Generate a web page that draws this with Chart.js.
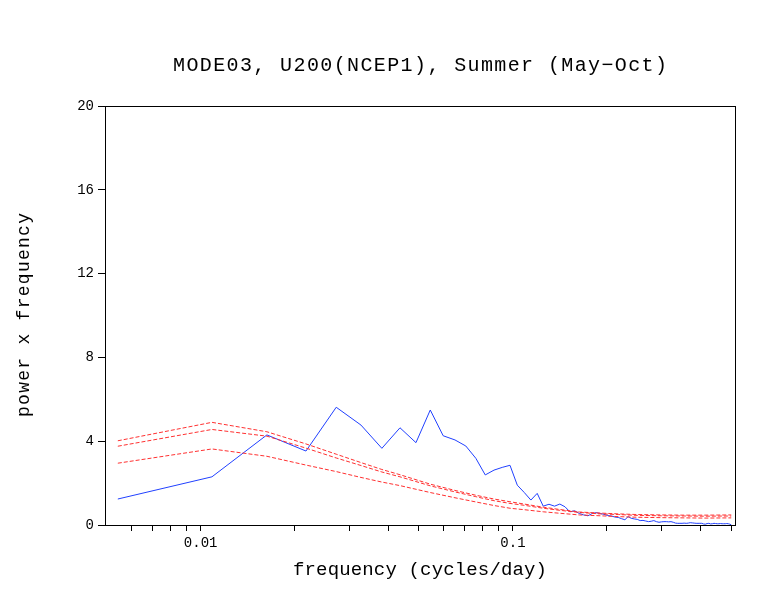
<!DOCTYPE html>
<html>
<head>
<meta charset="utf-8">
<script src="https://cdn.jsdelivr.net/npm/chart.js@4.4.1/dist/chart.umd.min.js"></script>
<style>
  html, body { margin: 0; padding: 0; background: #fff; }
  canvas { display: block; }
</style>
</head>
<body>
<canvas id="spectrumChart" width="770" height="595"></canvas>
<script>
// frequencies of the harmonics (cycles/day), record of 184 days
const freq = [
  0.00543, 0.01087, 0.01630, 0.02174, 0.02717, 0.03261, 0.03804, 0.04348, 0.04891, 0.05435,
  0.05978, 0.06522, 0.07065, 0.07609, 0.08152, 0.08696, 0.09239, 0.09783, 0.10326, 0.10870,
  0.11413, 0.11957, 0.12500, 0.13043, 0.13587, 0.14130, 0.14674, 0.15217, 0.15761, 0.16304,
  0.16848, 0.17391, 0.17935, 0.18478, 0.19022, 0.19565, 0.20109, 0.20652, 0.21196, 0.21739,
  0.22283, 0.22826, 0.23370, 0.23913, 0.24457, 0.25000, 0.25543, 0.26087, 0.26630, 0.27174,
  0.27717, 0.28261, 0.28804, 0.29348, 0.29891, 0.30435, 0.30978, 0.31522, 0.32065, 0.32609,
  0.33152, 0.33696, 0.34239, 0.34783, 0.35326, 0.35870, 0.36413, 0.36957, 0.37500, 0.38043,
  0.38587, 0.39130, 0.39674, 0.40217, 0.40761, 0.41304, 0.41848, 0.42391, 0.42935, 0.43478,
  0.44022, 0.44565, 0.45109, 0.45652, 0.46196, 0.46739, 0.47283, 0.47826, 0.48370, 0.48913,
  0.49457, 0.50000
];

// power x frequency of the mode (blue)
const powerFreq = [
  1.24, 2.30, 4.30, 3.53, 5.62, 4.77, 3.66, 4.64, 3.93, 5.49,
  4.26, 4.06, 3.77, 3.18, 2.39, 2.62, 2.75, 2.85, 1.90, 1.55,
  1.19, 1.51, 0.90, 0.99, 0.90, 1.00, 0.87, 0.63, 0.68, 0.55,
  0.48, 0.44, 0.55, 0.59, 0.55, 0.51, 0.45, 0.43, 0.38, 0.36,
  0.30, 0.25, 0.40, 0.32, 0.29, 0.27, 0.21, 0.22, 0.19, 0.16,
  0.18, 0.21, 0.16, 0.13, 0.15, 0.16, 0.16, 0.15, 0.16, 0.13,
  0.09, 0.08, 0.08, 0.08, 0.09, 0.08, 0.09, 0.11, 0.10, 0.09,
  0.08, 0.08, 0.08, 0.08, 0.05, 0.04, 0.07, 0.08, 0.05, 0.06,
  0.08, 0.07, 0.06, 0.06, 0.07, 0.06, 0.06, 0.06, 0.07, 0.06,
  0.04, 0.01
];

// red-noise reference curves (dashed red), read at fewer frequencies
const redFreq = [
  0.00543, 0.01087, 0.01630, 0.02174, 0.02717, 0.03261, 0.03804, 0.04348, 0.05435, 0.06522,
  0.07609, 0.08696, 0.09783, 0.10870, 0.12500, 0.14130, 0.16304, 0.19022, 0.21739, 0.25000,
  0.29891, 0.35326, 0.40761, 0.50000
];
const redUpper = [
  4.02, 4.90, 4.45, 3.87, 3.38, 2.98, 2.65, 2.40, 1.95, 1.65,
  1.42, 1.24, 1.11, 1.00, 0.85, 0.74, 0.62, 0.57, 0.53, 0.50,
  0.48, 0.47, 0.47, 0.48
];
const redMiddle = [
  3.76, 4.56, 4.24, 3.67, 3.20, 2.84, 2.53, 2.30, 1.87, 1.58,
  1.35, 1.16, 1.03, 0.94, 0.80, 0.70, 0.60, 0.53, 0.50, 0.46,
  0.44, 0.43, 0.42, 0.43
];
const redLower = [
  2.95, 3.63, 3.28, 2.86, 2.55, 2.27, 2.05, 1.88, 1.55, 1.30,
  1.10, 0.93, 0.80, 0.73, 0.63, 0.56, 0.48, 0.44, 0.40, 0.37,
  0.35, 0.34, 0.33, 0.34
];

const xTickValues = [
  0.006, 0.007, 0.008, 0.009, 0.01, 0.02, 0.03, 0.04, 0.05, 0.06, 0.07, 0.08, 0.09,
  0.1, 0.2, 0.3, 0.4, 0.5
];
const xTickText = [
  '', '', '', '', '0.01', '', '', '', '', '', '', '', '',
  '0.1', '', '', '', ''
];

const titleText = 'MODE03, U200(NCEP1), Summer (May\u2212Oct)';
const xTitle = 'frequency (cycles/day)';
const yTitle = 'power x frequency';

const FONT = '"Liberation Mono", "DejaVu Sans Mono", monospace';

function toPoints(xs, ys) {
  return xs.map((x, i) => ({ x: x, y: ys[i] }));
}

// draw text stretched with letter spacing to a target width
function spacedText(ctx, text, cx, cy, width, size, angle) {
  ctx.save();
  ctx.font = size + 'px ' + FONT;
  ctx.fillStyle = '#000';
  ctx.textAlign = 'left';
  ctx.textBaseline = 'alphabetic';
  ctx.letterSpacing = '0px';
  const natural = ctx.measureText(text).width;
  const gap = (width - natural) / (text.length - 1);
  ctx.letterSpacing = gap + 'px';
  ctx.translate(cx, cy);
  if (angle) ctx.rotate(angle);
  ctx.fillText(text, -width / 2, 0);
  ctx.restore();
}

const frameAndTitles = {
  id: 'frameAndTitles',
  afterDraw(chart) {
    const ctx = chart.ctx;
    const a = chart.chartArea;
    ctx.save();
    ctx.strokeStyle = '#000';
    ctx.lineWidth = 1;
    ctx.strokeRect(Math.round(a.left) + 0.5, Math.round(a.top) + 0.5,
      Math.round(a.right - a.left), Math.round(a.bottom - a.top));
    ctx.restore();

    spacedText(ctx, titleText, 420, 71, 494, 20, 0);
    spacedText(ctx, xTitle, 420, 575, 254, 19, 0);
    spacedText(ctx, yTitle, 29, 315, 204, 18, -Math.PI / 2);
  }
};

const redStyle = {
  borderColor: '#ff3030',
  borderWidth: 1,
  borderDash: [4, 2],
  pointRadius: 0,
  showLine: true,
  fill: false
};

new Chart(document.getElementById('spectrumChart'), {
  type: 'scatter',
  data: {
    datasets: [
      Object.assign({ label: 'upper', data: toPoints(redFreq, redUpper) }, redStyle),
      Object.assign({ label: 'middle', data: toPoints(redFreq, redMiddle) }, redStyle),
      Object.assign({ label: 'lower', data: toPoints(redFreq, redLower) }, redStyle),
      {
        label: 'MODE03',
        data: toPoints(freq, powerFreq),
        borderColor: '#2040ff',
        borderWidth: 1,
        pointRadius: 0,
        showLine: true,
        fill: false
      }
    ]
  },
  options: {
    responsive: false,
    animation: false,
    layout: { padding: { top: 106, right: 35, left: 0, bottom: 0 } },
    plugins: {
      legend: { display: false },
      tooltip: { enabled: false },
      title: { display: false }
    },
    scales: {
      x: {
        type: 'logarithmic',
        min: 0.00494,
        max: 0.514,
        afterBuildTicks: (scale) => {
          scale.ticks = xTickValues.map(v => ({ value: v }));
        },
        afterFit: (scale) => { scale.height = 70; },
        grid: {
          display: true,
          drawOnChartArea: false,
          drawTicks: true,
          tickLength: 6,
          color: '#000'
        },
        border: { display: true, color: '#000', width: 1 },
        ticks: {
          autoSkip: false,
          maxRotation: 0,
          padding: 4,
          color: '#000',
          font: { family: FONT, size: 14 },
          callback: (value, index) => xTickText[index]
        }
      },
      y: {
        min: 0,
        max: 20,
        afterFit: (scale) => { scale.width = 105; },
        grid: {
          display: true,
          drawOnChartArea: false,
          drawTicks: true,
          tickLength: 7,
          color: '#000'
        },
        border: { display: true, color: '#000', width: 1 },
        ticks: {
          stepSize: 4,
          padding: 4,
          color: '#000',
          font: { family: FONT, size: 14 }
        }
      }
    }
  },
  plugins: [frameAndTitles]
});
</script>
</body>
</html>
